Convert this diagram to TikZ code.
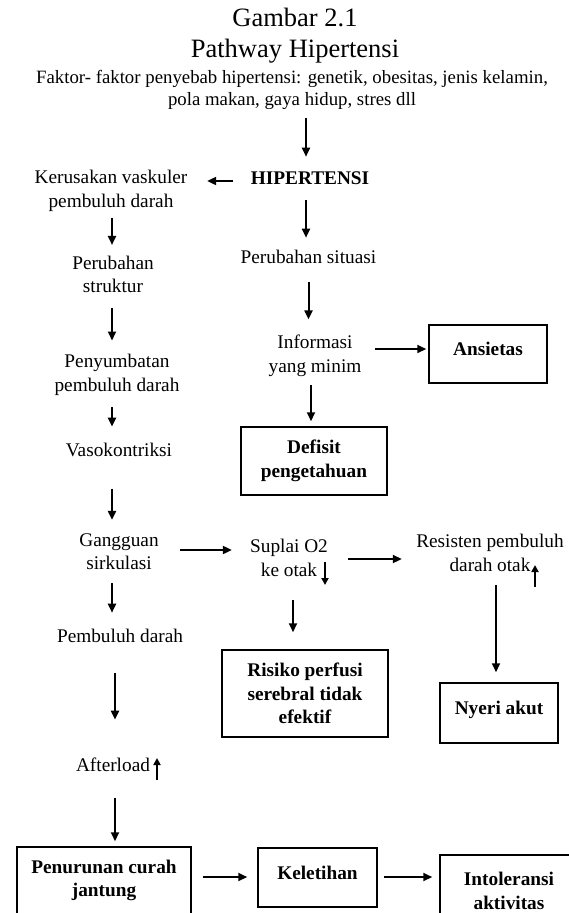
\documentclass[tikz,border=0pt]{standalone}
\usepackage{fontspec}
\setmainfont{Liberation Serif}
\usetikzlibrary{arrows.meta,calc}
\newcommand\myBody{\fontsize{19.3}{23.5}\selectfont}
\newcommand\myFak{\fontsize{18.8}{22.5}\selectfont}
\newcommand\myTitle{\fontsize{26.5}{31}\selectfont}
\begin{document}
\begin{tikzpicture}[x=1pt,y=-1pt,
 txt/.style={inner sep=0pt, align=center, font=\myBody},
 bx/.style={draw, line width=1.5pt, inner sep=0pt, align=center, font=\myBody\bfseries},
 arr/.style={line width=2pt, -{Triangle[length=9pt,width=8pt]}},
 sarr/.style={line width=2pt, -{Triangle[length=7pt,width=7pt]}}]
\useasboundingbox (0,0) rectangle (569,913);
\clip (0,0) rectangle (569,913);

% text nodes
\node[txt, font=\myTitle] (title) at (295,36) {Gambar 2.1\\Pathway Hipertensi};
\node[txt, font=\myFak] (fak) at (292,90) {Faktor- faktor penyebab hipertensi: genetik, obesitas, jenis kelamin,\\pola makan, gaya hidup, stres dll};
\node[txt, font=\myBody\bfseries] (hip) at (310,178) {HIPERTENSI};
\node[txt] (ker) at (111,191) {Kerusakan vaskuler\\pembuluh darah};
\node[txt] (ps) at (308.5,256.5) {Perubahan situasi};
\node[txt] (per) at (113,274.5) {Perubahan\\struktur};
\node[txt] (inf) at (315,356) {Informasi\\yang minim};
\node[txt] (pen) at (117,375) {Penyumbatan\\pembuluh darah};
\node[txt] (vas) at (119,449.5) {Vasokontriksi};
\node[txt] (gan) at (119,551.5) {Gangguan\\sirkulasi};
\node[txt] (sup) at (289,558) {Suplai O2\\ke otak};
\node[txt] (res) at (490,553) {Resisten pembuluh\\darah otak};
\node[txt] (pemb) at (120,635.5) {Pembuluh darah};
\node[txt] (aft) at (113,764.5) {Afterload};

% boxes
\node[bx, minimum width=118pt, minimum height=58pt, text depth=10pt] (ans) at (488,354) {Ansietas};
\node[bx, minimum width=146pt, minimum height=68pt] (def) at (314,461) {Defisit\\pengetahuan};
\node[bx, minimum width=166pt, minimum height=87pt] (ris) at (305,693.5) {Risiko perfusi\\serebral tidak\\efektif};
\node[bx, minimum width=118pt, minimum height=60pt, text depth=10pt] (nye) at (499,713) {Nyeri akut};
\node[bx, minimum width=174pt, minimum height=67pt] (pnr) at (104,880.5) {Penurunan curah\\jantung};
\node[bx, minimum width=119pt, minimum height=59pt, text depth=10pt] (kel) at (317.5,877.5) {Keletihan};
\node[bx, minimum width=138pt, minimum height=72pt] (int) at (509,891) {Intoleransi\\aktivitas};

% column / row helpers
\coordinate (cL) at (112,0);
\coordinate (cL2) at (115,0);
\coordinate (cR) at (306,0);
\coordinate (cR2) at (308.5,0);
\coordinate (cR3) at (311,0);
\coordinate (cS) at (293,0);
\coordinate (cN) at (496,0);
\coordinate (rH) at (0,181);
\coordinate (rA) at (0,349);
\coordinate (rB) at (0,550);
\coordinate (rC) at (0,559);
\coordinate (rD) at (0,877);

% connectors
\draw[arr, shorten <=8.2pt, shorten >=14.6pt] (cR |- fak.south) -- (cR |- hip.north);
\draw[arr, shorten <=17.5pt, shorten >=19.6pt] (hip.west |- rH) -- (ker.east |- rH);
\draw[arr, shorten <=6.3pt, shorten >=10.8pt] (cL |- ker.south) -- (cL |- per.north);
\draw[arr, shorten <=15.6pt, shorten >=11.8pt] (cR |- hip.south) -- (cR |- ps.north);
\draw[arr, shorten <=14.3pt, shorten >=13.8pt] (cL |- per.south) -- (cL |- pen.north);
\draw[arr, shorten <=19pt, shorten >=15.8pt] (cR2 |- ps.south) -- (cR2 |- inf.north);
\draw[arr, shorten <=13.6pt, shorten >=2pt] (inf.east |- rA) -- (ans.west |- rA);
\draw[arr, shorten <=8.3pt, shorten >=5pt] (cR3 |- inf.south) -- (cR3 |- def.north);
\draw[arr, shorten <=11.3pt, shorten >=15.8pt] (cL |- pen.south) -- (cL |- vas.north);
\draw[arr, shorten <=32pt, shorten >=13.2pt] (cL |- vas.south) -- (cL |- gan.north);
\draw[arr, shorten <=21.3pt, shorten >=18.1pt] (gan.east |- rB) -- (sup.west |- rB);
\draw[arr, shorten <=20.1pt, shorten >=14.3pt] (sup.east |- rC) -- (res.west |- rC);
\draw[arr, shorten <=23.5pt, shorten >=17pt] (cS |- sup.south) -- (cS |- ris.north);
\draw[arr, shorten <=13.5pt, shorten >=10pt] (cN |- res.south) -- (cN |- nye.north);
\draw[arr, shorten <=13.5pt, shorten >=15.8pt] (cL |- gan.south) -- (cL |- pemb.north);
\draw[arr, shorten <=31pt, shorten >=37.8pt] (cL2 |- pemb.south) -- (cL2 |- aft.north);
\draw[arr, shorten <=26pt, shorten >=5pt] (cL2 |- aft.south) -- (cL2 |- pnr.north);
\draw[arr, shorten <=11pt, shorten >=10pt] (pnr.east |- rD) -- (kel.west |- rD);
\draw[arr, shorten <=6pt, shorten >=7pt] (kel.east |- rD) -- (int.west |- rD);

% small indicator arrows
\coordinate (s1a) at (325,562); \coordinate (s1b) at (325,585);
\coordinate (s2a) at (535,587); \coordinate (s2b) at (535,565);
\coordinate (s3a) at (157,780); \coordinate (s3b) at (157,758);
\draw[sarr] (s1a) -- (s1b);
\draw[sarr] (s2a) -- (s2b);
\draw[sarr] (s3a) -- (s3b);
\end{tikzpicture}
\end{document}
